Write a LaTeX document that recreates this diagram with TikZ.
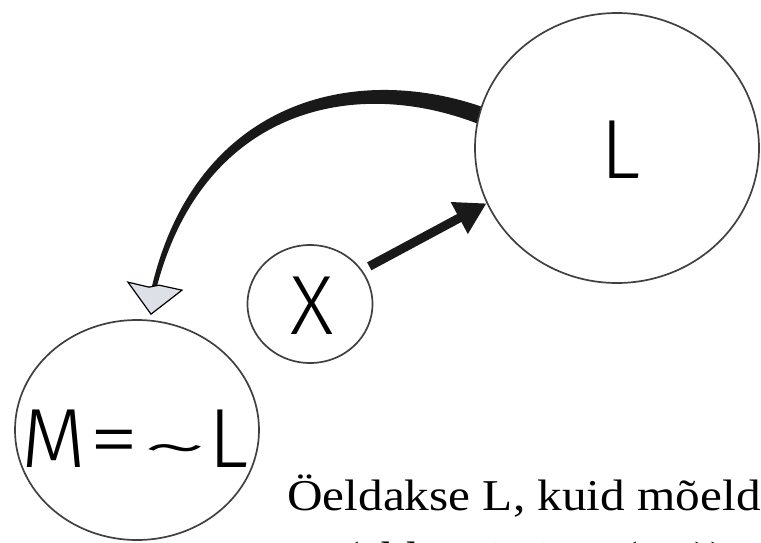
\documentclass[tikz,border=0pt]{standalone}
\usepackage{fontspec}
\usepackage{graphicx}
\usetikzlibrary{shapes.geometric,arrows.meta,calc}
\newfontfamily\labelfont{Fira Sans Light}
\newfontfamily\bodyfont[FakeStretch=1.12]{Liberation Serif}
\newcommand{\negtilde}{\raisebox{-2pt}{\scalebox{1.7}[0.8]{\textasciitilde}}}
\definecolor{headgrey}{HTML}{DDE1E7}
\tikzset{ring/.style={ellipse,draw=black!75,line width=1.7pt,inner sep=0pt},
  tag/.style={inner sep=0pt,font=\labelfont\fontsize{84}{84}\selectfont}}

\begin{document}
\begin{tikzpicture}[x=1pt,y=-1pt]
\path[use as bounding box] (0,0) rectangle (761,542);
\clip (0,0) rectangle (761,542);
% the three circles
\node[ring,minimum width=284pt,minimum height=270pt] (L) at (617,148) {};
\node[ring,minimum width=244pt,minimum height=220pt] (M) at (137,430) {};
\node[ring,minimum width=125pt,minimum height=118pt] (X) at (310,304) {};
\node[tag] (Ltag) at ($(L)+(4,2)$) {L};
\node[tag] (Mtag) at ($(M)+(-2,10)$) {M\kern4pt\scalebox{1.2}[1]{=}\kern2pt\negtilde\kern0pt L};
\node[tag] (Xtag) at ($(X)+(2,2)$) {X};
% big tapered arrow from L back to M
\coordinate (tip) at ($(M.north)+(14,-5)$);
\fill[black!90] (L.163) .. controls (347,61) and (195,106) .. ($(tip)+(1,-28)$)
  -- ($(tip)+(6,-28)$) .. controls (203,112) and (350,75) .. (L.170) -- cycle;
\filldraw[fill=headgrey,draw=black,line width=1.2pt,line join=miter]
  ($(tip)+(-23,-32)$) -- (tip) -- ($(tip)+(31,-24)$) -- ($(tip)+(8,-29)$)
  -- ($(tip)+(-2,-27)$) -- cycle;
% arrow from X to L
\draw[black!90,line width=9pt,shorten <=8pt,-{Triangle[length=31pt,width=34pt]}] (X.33) -- (L.203);
% caption
\node[anchor=base west,inner sep=0pt,align=left,font=\bodyfont\fontsize{44}{62}\selectfont] (note) at (287,572)
  {Öeldakse L, kuid mõeldakse\\M (ehk L-i eitus (\textasciitilde L))};
\end{tikzpicture}
\end{document}
